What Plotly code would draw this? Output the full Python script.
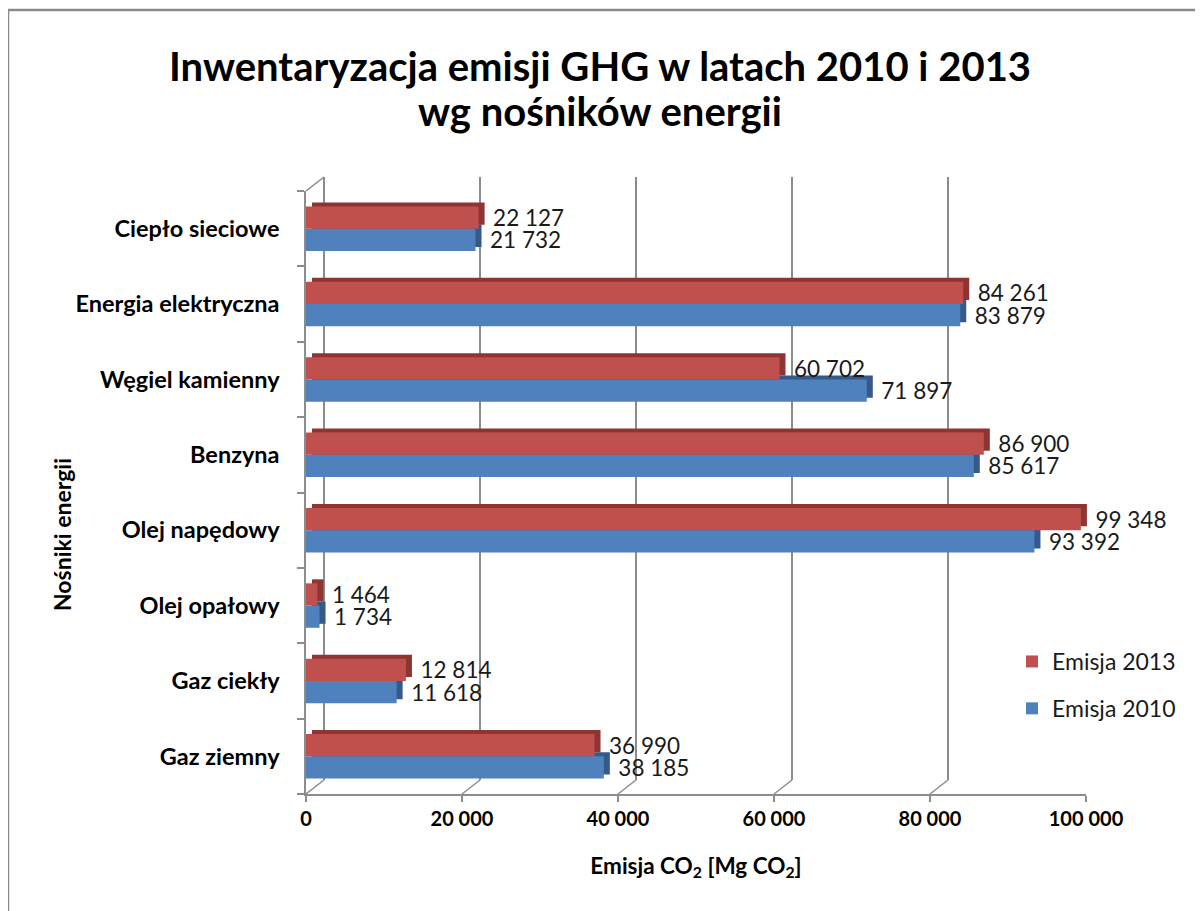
import plotly.graph_objects as go

# data
categories = ['Gaz ziemny', 'Gaz ciekły', 'Olej opałowy', 'Olej napędowy',
              'Benzyna', 'Węgiel kamienny', 'Energia elektryczna', 'Ciepło sieciowe']
emisja_2010 = [38185, 11618, 1734, 93392, 85617, 71897, 83879, 21732]
emisja_2013 = [36990, 12814, 1464, 99348, 86900, 60702, 84261, 22127]
x_ticks = [0, 20000, 40000, 60000, 80000, 100000]
x_max = 100000

OFF = 8                      # page body margin
W, H = 1203 - OFF, 911 - OFF  # figure size


def P(v):
    # page pixel -> figure pixel
    return v - OFF


# pixel geometry of the pseudo-3D box (page coordinates)
front_l, front_r, front_t, front_b = P(306), P(1086), P(191), P(794)
depth_x, depth_y = 18, 14     # back wall offset
side_x, side_y = 6, 4         # bar side/top face offset

pl, pr = front_l, front_r + depth_x
pt, pb = front_t - depth_y, front_b
pw, ph = pr - pl, pb - pt


def dom_x(a, b):
    return [(a - pl) / pw, (b - pl) / pw]


def dom_y(top, bot):
    return [(pb - bot) / ph, (pb - top) / ph]


def paper_x(v):
    return (P(v) - pl) / pw


def paper_y(v):
    return (pb - P(v)) / ph


FONT = 'Lato'
RED, RED_D = '#C0504D', '#8E3432'
BLUE, BLUE_D = '#4F81BD', '#34598A'
GRID = '#8C8C8C'
LABEL = '\u00a0\u00a0%{x:,.0f}'

fig = go.Figure()

# back wall (gridlines only)
fig.add_trace(go.Scatter(x=[0] * len(categories), y=categories, mode='lines',
                         line=dict(width=0), hoverinfo='skip', showlegend=False,
                         xaxis='x', yaxis='y'))

# bar side faces (darker copy, shifted)
fig.add_trace(go.Bar(y=categories, x=emisja_2010, orientation='h',
                     marker=dict(color=BLUE_D, line=dict(width=0)),
                     hoverinfo='skip', showlegend=False, xaxis='x2', yaxis='y2'))
fig.add_trace(go.Bar(y=categories, x=emisja_2013, orientation='h',
                     marker=dict(color=RED_D, line=dict(width=0)),
                     hoverinfo='skip', showlegend=False, xaxis='x2', yaxis='y2'))

# front bars
label_font = dict(family=FONT, size=22.5, color='#1a1a1a')
fig.add_trace(go.Bar(y=categories, x=emisja_2010, orientation='h', name='Emisja 2010',
                     marker=dict(color=BLUE, line=dict(width=0)),
                     texttemplate=LABEL, textposition='outside', cliponaxis=False,
                     constraintext='none', textfont=label_font,
                     legendgroup='a', legendrank=2, xaxis='x3', yaxis='y3'))
fig.add_trace(go.Bar(y=categories, x=emisja_2013, orientation='h', name='Emisja 2013',
                     marker=dict(color=RED, line=dict(width=0)),
                     texttemplate=LABEL, textposition='outside', cliponaxis=False,
                     constraintext='none', textfont=label_font,
                     legendgroup='b', legendrank=1, xaxis='x3', yaxis='y3'))

cat_axis = dict(type='category', categoryorder='array', categoryarray=categories,
                range=[-0.5, len(categories) - 0.5])

# floor / side wall connectors
px_per_unit = (front_r - front_l) / x_max
shapes = []
for v in x_ticks:
    shapes.append(dict(type='line', xref='x3', yref='paper',
                       x0=v, x1=v + depth_x / px_per_unit, y0=0, y1=depth_y / ph,
                       line=dict(color=GRID, width=1.5)))
shapes.append(dict(type='line', xref='x3', yref='paper',
                   x0=0, x1=depth_x / px_per_unit,
                   y0=(pb - front_t) / ph, y1=1, line=dict(color=GRID, width=1.5)))
# outer chart frame
shapes.append(dict(type='rect', xref='paper', yref='paper',
                   x0=paper_x(8), x1=paper_x(1203 + 20),
                   y0=paper_y(911 + 20), y1=paper_y(10),
                   line=dict(color='#8a8a8a', width=2.5), layer='below'))

title_font = dict(family=FONT, size=40, color='black')
annotations = [
    dict(text='<b>Inwentaryzacja emisji GHG w latach 2010 i 2013</b>',
         xref='paper', yref='paper', x=paper_x(600), y=paper_y(66),
         xanchor='center', yanchor='middle', showarrow=False, font=title_font),
    dict(text='<b>wg nośników energii</b>',
         xref='paper', yref='paper', x=paper_x(600), y=paper_y(111),
         xanchor='center', yanchor='middle', showarrow=False, font=title_font),
    dict(text='<b>Nośniki energii</b>', textangle=-90,
         xref='paper', yref='paper', x=paper_x(62), y=paper_y(535),
         xanchor='center', yanchor='middle',
         showarrow=False, font=dict(family=FONT, size=23, color='black')),
]

fig.update_layout(
    width=W, height=H,
    margin=dict(l=pl, r=W - pr, t=pt, b=H - pb, autoexpand=False),
    paper_bgcolor='white', plot_bgcolor='rgba(0,0,0,0)',
    separators=', ',
    font=dict(family=FONT, color='black'),
    barmode='group', bargap=0.41, bargroupgap=0,
    xaxis=dict(domain=dom_x(front_l + depth_x, front_r + depth_x), range=[0, x_max],
               showgrid=True, gridcolor=GRID, gridwidth=1.5,
               zeroline=True, zerolinecolor=GRID, zerolinewidth=1.5,
               tickvals=x_ticks, showticklabels=False, ticks='', showline=False,
               anchor='y'),
    yaxis=dict(domain=dom_y(front_t - depth_y, front_b - depth_y), showgrid=False,
               showticklabels=False, ticks='', showline=False, zeroline=False,
               anchor='x', **cat_axis),
    xaxis2=dict(domain=dom_x(front_l + side_x, front_r + side_x), range=[0, x_max],
                visible=False, anchor='y2'),
    yaxis2=dict(domain=dom_y(front_t - side_y, front_b - side_y), visible=False,
                anchor='x2', **cat_axis),
    xaxis3=dict(domain=dom_x(front_l, front_r), range=[0, x_max],
                tickvals=x_ticks, showgrid=False, zeroline=False,
                showline=True, linecolor=GRID, linewidth=1.5,
                ticks='outside', ticklen=6, tickcolor=GRID, tickwidth=1.5,
                tickformat=',.0f',
                tickfont=dict(family=FONT, size=20, color='black', weight='bold'),
                title=dict(text='<b>Emisja CO<sub>2</sub> [Mg CO<sub>2</sub>]</b>',
                           font=dict(family=FONT, size=22.5, color='black'), standoff=29),
                anchor='y3'),
    yaxis3=dict(domain=dom_y(front_t, front_b), showgrid=False, zeroline=False,
                showline=True, linecolor=GRID, linewidth=1.5,
                ticks='outside', ticklen=7, tickcolor=GRID, tickwidth=1.5,
                tickson='boundaries', ticklabelstandoff=20,
                tickfont=dict(family=FONT, size=23.5, color='black', weight='bold'),
                anchor='x3', **cat_axis),
    legend=dict(x=paper_x(1012), xanchor='left', y=paper_y(640), yanchor='top',
                traceorder='grouped', tracegroupgap=14,
                font=dict(family=FONT, size=23, color='#1a1a1a'),
                bgcolor='rgba(0,0,0,0)', itemwidth=30),
    annotations=annotations,
    shapes=shapes,
)

fig.write_html('out.html')
